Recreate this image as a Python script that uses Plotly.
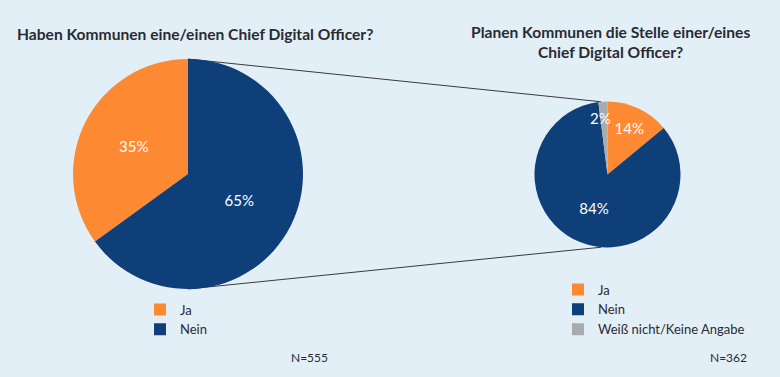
import math
import plotly.graph_objects as go

# ---- data ----
labels_have = ["Ja", "Nein"]
values_have = [35, 65]
labels_plan = ["Ja", "Nein", "Weiß nicht/Keine Angabe"]
values_plan = [14, 84, 2]
colors_have = ["#fd8a33", "#0e3f78"]
colors_plan = ["#fd8a33", "#0e3f78", "#a9abae"]
title_have = "Haben Kommunen eine/einen Chief Digital Officer?"
title_plan = "Planen Kommunen die Stelle einer/eines<br>Chief Digital Officer?"
n_have = "N=555"
n_plan = "N=362"

W, H = 780, 377
BG = "#e3eff6"
FONT = "Lato"
TXT = "#2a2a33"
LBL = 15

# pie geometry (pixels): center and radius
L_c, L_r = (188, 174), 115
R_c, R_r = (607.5, 174.5), 73


def dom(c, r):
    return dict(x=[(c[0] - r) / W, (c[0] + r) / W],
                y=[(H - c[1] - r) / H, (H - c[1] + r) / H])


# left pie: "Ja" slice ends at 12 o'clock, lying counterclockwise of it
rot_have = 360 * values_have[1] / sum(values_have)

# small slices (too small for inside text) get their label as annotation
small = [v < 5 for v in values_plan]
text_plan = ["" if s else f"{v}%" for v, s in zip(values_plan, small)]

fig = go.Figure()
fig.add_trace(go.Pie(
    labels=labels_have, values=values_have, sort=False, direction="clockwise",
    rotation=rot_have, marker=dict(colors=colors_have, line=dict(width=0)),
    texttemplate="%{value}%", textposition="inside", insidetextorientation="horizontal",
    textfont=dict(color="white", size=LBL, family=FONT), hoverinfo="skip",
    domain=dom(L_c, L_r), legend="legend", showlegend=True,
))
fig.add_trace(go.Pie(
    labels=[l + " " for l in labels_plan], values=values_plan, sort=False,
    direction="clockwise", rotation=0,
    marker=dict(colors=colors_plan, line=dict(width=0)),
    text=text_plan, texttemplate="%{text}", textposition="inside",
    insidetextorientation="horizontal",
    textfont=dict(color="white", size=LBL, family=FONT), hoverinfo="skip",
    domain=dom(R_c, R_r), legend="legend2", showlegend=True,
))


def px(x, y):
    return x / W, 1 - y / H


# connector lines from left pie top/bottom to right pie
ang = math.radians(5)
rt = (R_c[0] - R_r * math.sin(ang), R_c[1] - R_r * math.cos(ang))
rb = (R_c[0] - R_r * math.sin(ang), R_c[1] + R_r * math.cos(ang))
lt = (L_c[0], L_c[1] - L_r)
lb = (L_c[0], L_c[1] + L_r)
for a, b in [(lt, rt), (lb, rb)]:
    x0, y0 = px(*a)
    x1, y1 = px(*b)
    fig.add_shape(type="line", xref="paper", yref="paper", x0=x0, y0=y0, x1=x1, y1=y1,
                  line=dict(color="#3a3a3a", width=1), layer="below")

ann = []
ann.append(dict(text="<b>" + title_have + "</b>", x=15 / W, y=1 - 34 / H, xanchor="left",
                yanchor="middle", showarrow=False, font=dict(size=15.6, color=TXT, family=FONT)))
ann.append(dict(text="<b>" + title_plan.replace("<br>", "</b><br><b>") + "</b>", x=610 / W,
                y=1 - 42 / H, xanchor="center", yanchor="middle", align="center",
                showarrow=False, font=dict(size=15.6, color=TXT, family=FONT)))
ann.append(dict(text=n_have, x=330 / W, y=1 - 357 / H, xanchor="right", yanchor="middle",
                showarrow=False, font=dict(size=12, color=TXT, family=FONT)))
ann.append(dict(text=n_plan, x=749 / W, y=1 - 357 / H, xanchor="right", yanchor="middle",
                showarrow=False, font=dict(size=12, color=TXT, family=FONT)))

# labels for small slices, placed at the slice's mid-angle
tot = sum(values_plan)
cum = 0
for v, s in zip(values_plan, small):
    mid = (cum + v / 2) / tot * 2 * math.pi
    cum += v
    if s:
        lx = R_c[0] + 0.78 * R_r * math.sin(mid)
        ly = R_c[1] - 0.78 * R_r * math.cos(mid)
        x, y = px(lx, ly)
        ann.append(dict(text=f"{v}%", x=x, y=y, xanchor="center", yanchor="middle",
                        xshift=-3, showarrow=False,
                        font=dict(size=LBL, color="white", family=FONT)))

fig.update_layout(
    width=W, height=H, margin=dict(l=0, r=0, t=0, b=0),
    paper_bgcolor=BG, plot_bgcolor=BG,
    annotations=ann,
    legend=dict(x=140 / W, y=1 - 294.5 / H, xanchor="left", yanchor="top",
                font=dict(size=13, color=TXT, family=FONT), bgcolor="rgba(0,0,0,0)",
                traceorder="normal"),
    legend2=dict(x=558 / W, y=1 - 274.5 / H, xanchor="left", yanchor="top",
                 font=dict(size=13, color=TXT, family=FONT), bgcolor="rgba(0,0,0,0)",
                 traceorder="normal"),
)
fig.write_html("out.html", config={"displayModeBar": False},
               post_script="document.body.style.margin='0';document.body.style.padding='0';")
